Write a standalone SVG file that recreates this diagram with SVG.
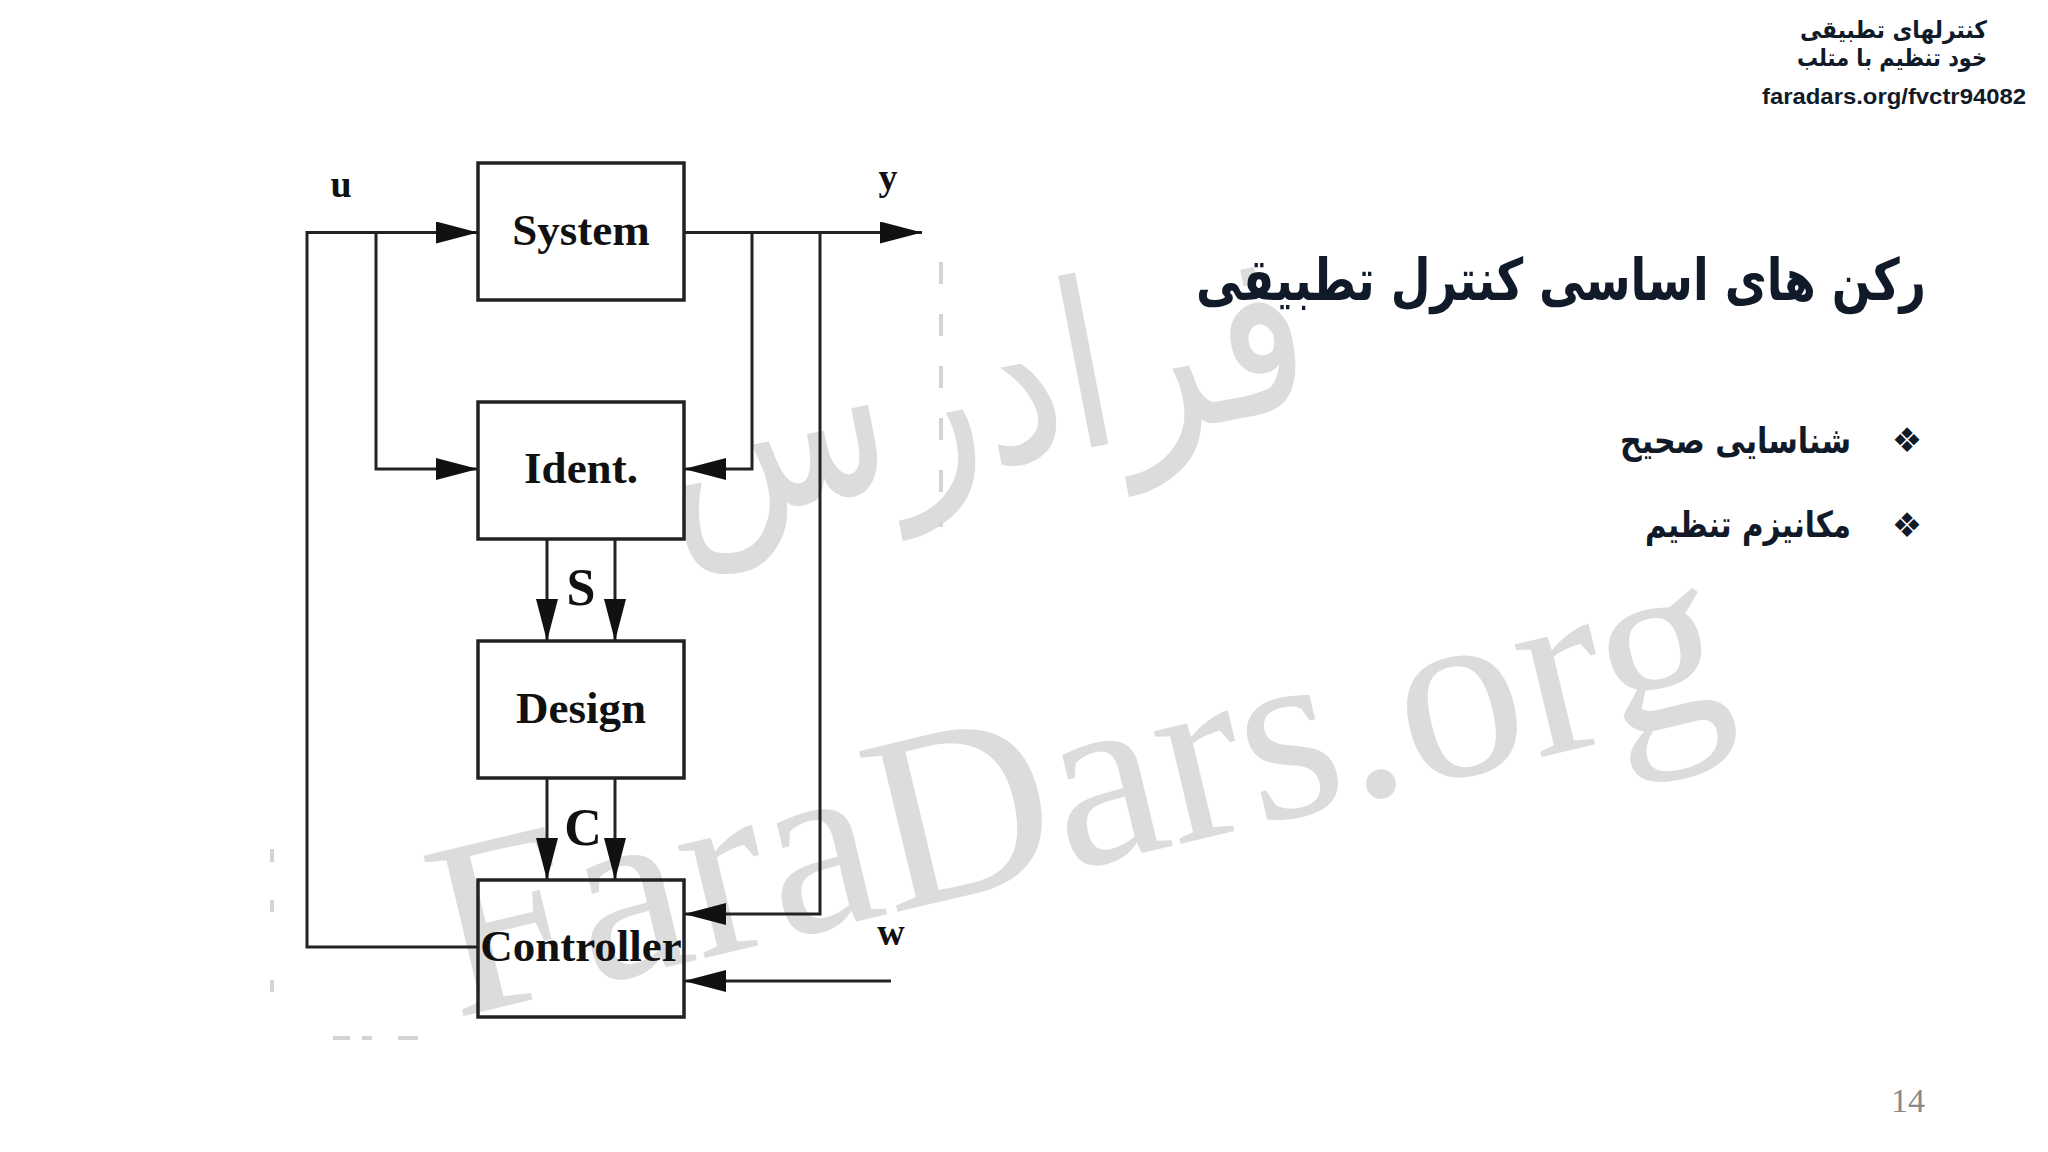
<svg xmlns="http://www.w3.org/2000/svg" width="2048" height="1152" viewBox="0 0 2048 1152">
<defs>
<style>
.box{fill:none;stroke:#222;stroke-width:3.5}
.ln{fill:none;stroke:#222;stroke-width:3;marker-end:url(#ah)}
.bt{font-family:"Liberation Serif",serif;font-weight:bold;font-size:45px;fill:#111;text-anchor:middle}
.lb{font-family:"Liberation Serif",serif;font-weight:bold;font-size:38px;fill:#111;text-anchor:middle}
.sc{font-family:"Liberation Serif",serif;font-weight:bold;font-size:52px;fill:#111;text-anchor:middle}
.fa{font-family:"DejaVu Sans",sans-serif;font-weight:bold;fill:#111a28;text-anchor:end}
.wm{fill:#dcdcdc}
.art{stroke:#d4d4d4;stroke-width:4;fill:none}
</style>
<marker id="ah" markerUnits="userSpaceOnUse" markerWidth="42" markerHeight="22" refX="42" refY="11" orient="auto">
<path d="M0,0 L42,11 L0,22 z" fill="#111"/>
</marker>
</defs>
<rect width="2048" height="1152" fill="#ffffff"/>

<g id="watermark">
<text class="wm" x="995" y="466" transform="rotate(-11 995 466)" font-family="DejaVu Sans,sans-serif" font-size="230" text-anchor="middle" textLength="660" lengthAdjust="spacingAndGlyphs">فرادرس</text>
<text class="wm" x="455" y="1018" transform="rotate(-13.5 455 1018)" font-family="Liberation Serif,serif" font-size="252">FaraDars.org</text>
</g>

<g id="artifacts">
<path class="art" d="M941,262 V527" stroke-dasharray="22 30"/>
<path class="art" d="M272,849 V862 M272,900 V912 M272,980 V992" stroke-width="3"/>
<path class="art" d="M333,1038 H350 M362,1038 H372 M398,1038 H418" stroke-width="3"/>
</g>

<g id="connectors">
<path class="ln" d="M478,947 H307 V232.5 H478"/>
<path class="ln" d="M376,232.5 V469 H478"/>
<path class="ln" d="M684,232.5 H922"/>
<path class="ln" d="M752,232.5 V469 H684"/>
<path class="ln" d="M820,232.5 V914 H684"/>
<path class="ln" d="M891,981 H684"/>
<path class="ln" d="M547,539 V641"/>
<path class="ln" d="M615,539 V641"/>
<path class="ln" d="M547,778 V880"/>
<path class="ln" d="M615,778 V880"/>
<text class="lb" x="341" y="197">u</text>
<text class="lb" x="888" y="190">y</text>
<text class="lb" x="891" y="945">w</text>
<text class="sc" x="581" y="605">S</text>
<text class="sc" x="583" y="845">C</text>
</g>

<g id="node-system">
<rect class="box" x="478" y="163" width="206" height="137"/>
<text class="bt" x="581" y="245">System</text>
</g>
<g id="node-ident">
<rect class="box" x="478" y="402" width="206" height="137"/>
<text class="bt" x="581" y="483">Ident.</text>
</g>
<g id="node-design">
<rect class="box" x="478" y="641" width="206" height="137"/>
<text class="bt" x="581" y="723">Design</text>
</g>
<g id="node-controller">
<rect class="box" x="478" y="880" width="206" height="137"/>
<text class="bt" x="581" y="961" font-size="44">Controller</text>
</g>

<g id="header">
<text class="fa" x="1987" y="38" font-size="24" textLength="187" lengthAdjust="spacingAndGlyphs">کنترلهای تطبیقی</text>
<text class="fa" x="1987" y="66" font-size="24" textLength="190" lengthAdjust="spacingAndGlyphs">خود تنظیم با متلب</text>
<text x="2026" y="104" font-family="Liberation Sans,sans-serif" font-weight="bold" font-size="22" fill="#111a28" text-anchor="end" textLength="264" lengthAdjust="spacingAndGlyphs">faradars.org/fvctr94082</text>
</g>

<g id="title">
<text class="fa" x="1926" y="300" font-size="58" textLength="730" lengthAdjust="spacingAndGlyphs">رکن های اساسی کنترل تطبیقی</text>
</g>

<g id="bullets">
<text x="1907" y="452" font-family="DejaVu Sans,sans-serif" font-size="34" fill="#111a28" text-anchor="middle">❖</text>
<text class="fa" x="1851" y="453" font-size="36" textLength="231" lengthAdjust="spacingAndGlyphs">شناسایی صحیح</text>
<text x="1907" y="537" font-family="DejaVu Sans,sans-serif" font-size="34" fill="#111a28" text-anchor="middle">❖</text>
<text class="fa" x="1851" y="537" font-size="36" textLength="206" lengthAdjust="spacingAndGlyphs">مکانیزم تنظیم</text>
</g>

<text x="1908" y="1112" font-family="Liberation Serif,serif" font-size="34" fill="#8a8a8a" text-anchor="middle">14</text>
</svg>
